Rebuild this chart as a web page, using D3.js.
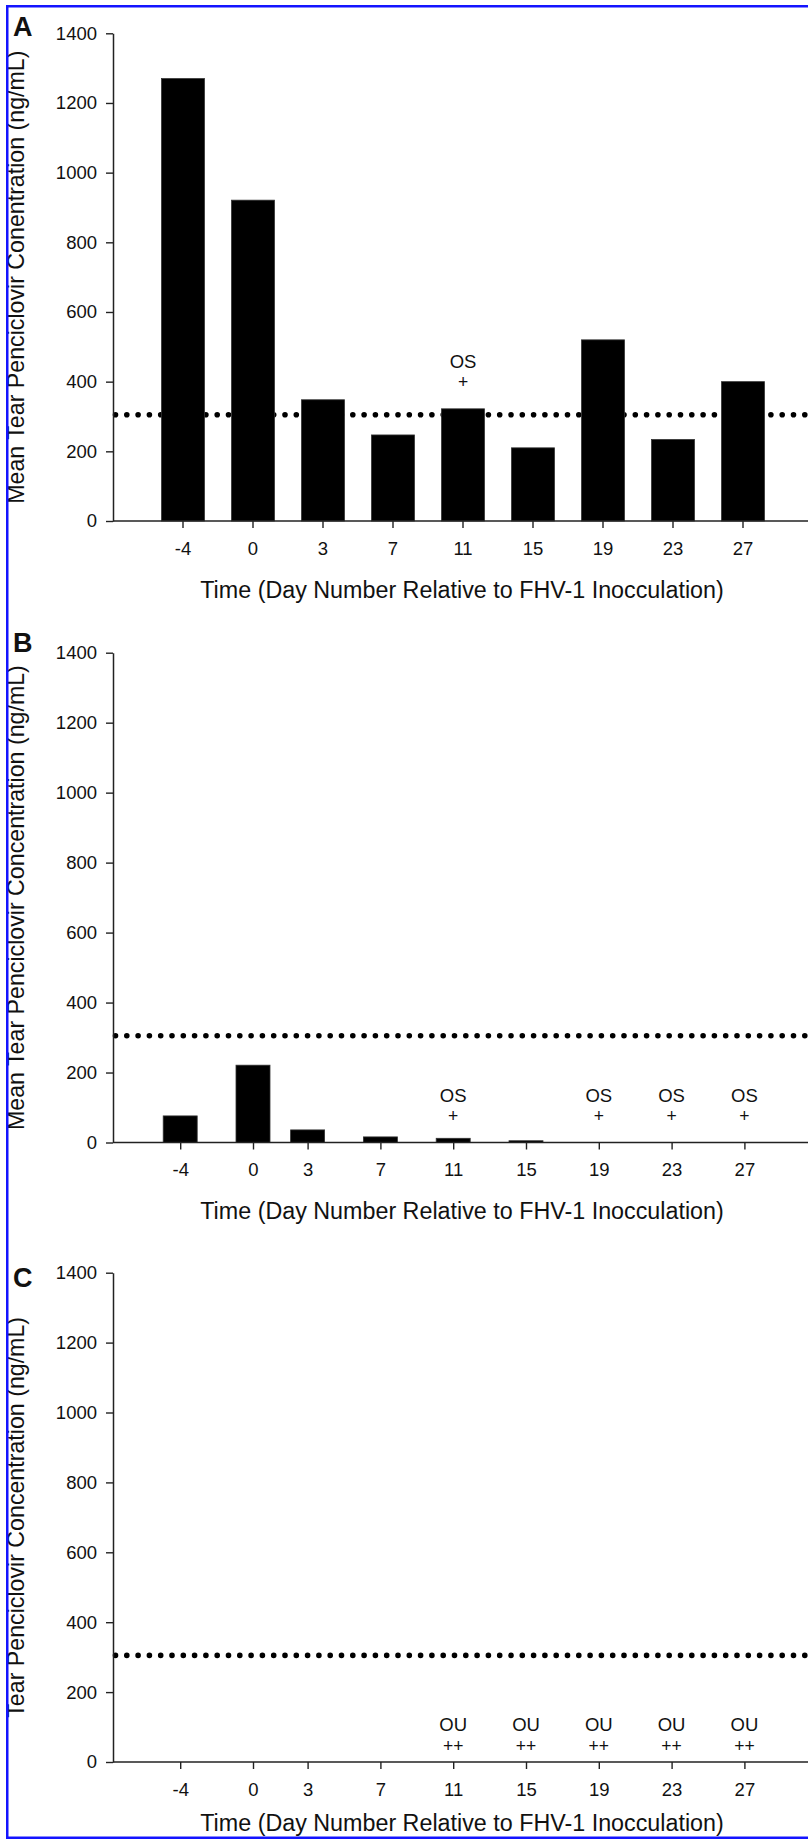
<!DOCTYPE html>
<html><head><meta charset="utf-8">
<script src="https://cdn.jsdelivr.net/npm/d3@7"></script>
<style>
body{margin:0;background:#fff}
svg{display:block}
text{font-family:"Liberation Sans",Arial,Helvetica,sans-serif;fill:#111}
</style>
</head><body>
<script>
// ---- data ----
const days = [-4, 0, 3, 7, 11, 15, 19, 23, 27];
const dayLabels = ["-4", "0", "3", "7", "11", "15", "19", "23", "27"];
const yTicks = [0, 200, 400, 600, 800, 1000, 1200, 1400];
const valuesA = [1270, 921, 348, 247, 322, 210, 520, 234, 400];
const valuesB = [76, 221, 36, 16, 12, 5, 0, 0, 0];
const valuesC = [0, 0, 0, 0, 0, 0, 0, 0, 0];
const threshold = 305;
const annotDaysA = [11];
const annotDaysB = [11, 19, 23, 27];
const annotDaysC = [11, 15, 19, 23, 27];
const annotTextOS = ["OS", "+"];
const annotTextOU = ["OU", "++"];
const yTitleA = "Mean Tear Penciclovir Conentration (ng/mL)";
const yTitleB = "Mean Tear Penciclovir Concentration (ng/mL)";
const yTitleC = "Tear Penciclovir Concentration (ng/mL)";
const xTitle = "Time (Day Number Relative to FHV-1 Inocculation)";

// ---- layout ----
const W = 808, H = 1842;
const axisX = 113;
const svg = d3.select("body").append("svg").attr("width", W).attr("height", H);
svg.append("rect").attr("width", W).attr("height", H).attr("fill", "#fff");

const panels = [
  {letter: "A", top: 33.3, bottom: 521, xType: "band", values: valuesA, barW: 43,
   annotDays: annotDaysA, annotText: annotTextOS, anchor: "bar", annotOff: 41,
   yTitle: yTitleA, xTitleY: 598, letterY: 36},
  {letter: "B", top: 652.7, bottom: 1142.5, xType: "linear", values: valuesB, barW: 34,
   annotDays: annotDaysB, annotText: annotTextOS, anchor: "axis", annotOff: 41,
   yTitle: yTitleB, xTitleY: 1218.5, letterY: 652},
  {letter: "C", top: 1272.7, bottom: 1762, xType: "linear", values: valuesC, barW: 34,
   annotDays: annotDaysC, annotText: annotTextOU, anchor: "axis", annotOff: 31,
   yTitle: yTitleC, xTitleY: 1831, letterY: 1287}
];

const axisColor = "#222";
const fmt = d3.format("d");

panels.forEach(p => {
  const g = svg.append("g");
  const y = d3.scaleLinear().domain([0, 1400]).range([p.bottom, p.top]);
  let xPos, xa;
  if (p.xType === "band") {
    const xb = d3.scaleBand().domain(dayLabels).range([148, 778]).padding(0);
    xPos = (i) => xb(dayLabels[i]) + xb.bandwidth() / 2;
    xa = d3.axisBottom(xb);
  } else {
    const xl = d3.scaleLinear().domain([-4, 27]).range([180.2, 744.4]);
    xPos = (i) => xl(days[i]);
    xa = d3.axisBottom(xl).tickValues(days).tickFormat((d, i) => dayLabels[i]);
  }

  // dotted threshold line
  g.append("line")
    .attr("x1", axisX + 2.5).attr("x2", W + 10)
    .attr("y1", y(threshold)).attr("y2", y(threshold))
    .attr("stroke", "#000").attr("stroke-width", 5.6)
    .attr("stroke-linecap", "round")
    .attr("stroke-dasharray", "0 11.3");

  // bars
  g.selectAll("rect.bar").data(p.values).join("rect")
    .attr("class", "bar")
    .attr("x", (d, i) => xPos(i) - p.barW / 2)
    .attr("width", p.barW)
    .attr("y", d => y(d))
    .attr("height", d => y(0) - y(d))
    .attr("fill", "#000")
    .attr("stroke", "#333").attr("stroke-width", 0.8);

  // x axis
  xa.tickSize(7).tickSizeOuter(0);
  const gx = g.append("g").attr("transform", `translate(0,${p.bottom})`).call(xa);
  gx.select(".domain").remove();
  gx.selectAll(".tick line").attr("stroke", axisColor).attr("stroke-width", 1.4);
  gx.selectAll(".tick text").attr("y", 33.5).attr("dy", 0)
    .attr("font-size", 18.5).attr("fill", "#111")
    .attr("font-family", "'Liberation Sans', Arial, sans-serif");
  g.append("line").attr("x1", axisX).attr("x2", W + 10)
    .attr("y1", p.bottom).attr("y2", p.bottom)
    .attr("stroke", axisColor).attr("stroke-width", 1.5);

  // y axis
  const ya = d3.axisLeft(y).tickValues(yTicks).tickFormat(fmt)
    .tickSize(7).tickSizeOuter(0).tickPadding(9);
  const gy = g.append("g").attr("transform", `translate(${axisX},0)`).call(ya);
  gy.select(".domain").attr("stroke", axisColor).attr("stroke-width", 1.5);
  gy.selectAll(".tick line").attr("stroke", axisColor).attr("stroke-width", 1.4);
  gy.selectAll(".tick text").attr("font-size", 18.5).attr("fill", "#111")
    .attr("font-family", "'Liberation Sans', Arial, sans-serif");

  // annotations
  p.annotDays.forEach(dd => {
    const i = days.indexOf(dd);
    const ax = xPos(i);
    const base = p.anchor === "bar" ? y(p.values[i]) : y(0);
    g.append("text").attr("x", ax).attr("y", base - p.annotOff)
      .attr("text-anchor", "middle").attr("font-size", 18.5).text(p.annotText[0]);
    g.append("text").attr("x", ax).attr("y", base - p.annotOff + 20.5)
      .attr("text-anchor", "middle").attr("font-size", 17.5).text(p.annotText[1]);
  });

  // titles
  g.append("text").attr("x", 462).attr("y", p.xTitleY)
    .attr("text-anchor", "middle").attr("font-size", 23.3).text(xTitle);
  g.append("text")
    .attr("transform", `translate(23.5,${(p.top + p.bottom) / 2}) rotate(-90)`)
    .attr("text-anchor", "middle").attr("font-size", 23.2).text(p.yTitle);
  g.append("text").attr("x", 13).attr("y", p.letterY)
    .attr("font-size", 27).attr("font-weight", "bold").text(p.letter);
});

// blue frame
svg.append("rect").attr("x", 7.25).attr("y", 6.25)
  .attr("width", W + 20).attr("height", 1831.5)
  .attr("fill", "none").attr("stroke", "#1414ff").attr("stroke-width", 2.5);
</script>
</body></html>
